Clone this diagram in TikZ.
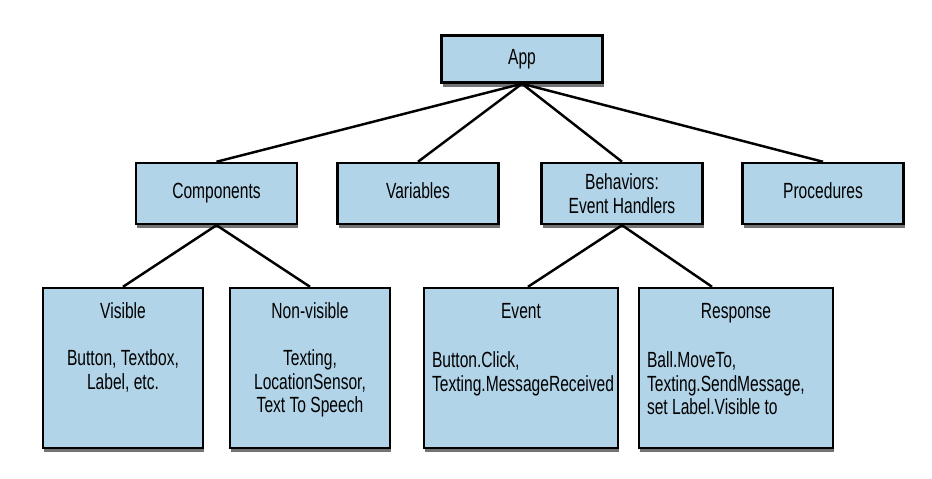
\documentclass[tikz,border=0pt]{standalone}
\usepackage{fontspec}
\setmainfont[FakeStretch=0.71]{Liberation Sans}
\usepackage{tikz}
\usetikzlibrary{positioning,shapes,shadows,calc}
\definecolor{boxblue}{RGB}{178,212,232}
\tikzset{
  box/.style={draw, rectangle, line width=1.4pt, fill=boxblue, inner sep=0pt,
    drop shadow={shadow xshift=0.8pt, shadow yshift=-2.4pt, opacity=0.55, fill=black}},
  onerow/.style={text height=1.6ex, text depth=0.45ex},
  link/.style={line width=1.4pt},
}

\begin{document}
\begin{tikzpicture}[x=0.02cm, y=-0.02cm, font=\fontsize{12.5}{13.3}\selectfont]
	\useasboundingbox (0,0) rectangle (932,479);
	
	% Racine
	\node[box, onerow, minimum width=3.22cm, minimum height=0.94cm] (app) at (522,59) {App};
	
	% Niveau 2
	\node[box, onerow, minimum width=3.22cm, minimum height=1.22cm] (comp) at (216.5,193.5) {Components};
	\node[box, onerow, minimum width=3.22cm, minimum height=1.22cm] (vars) at (418,193.5) {Variables};
	\node[box, minimum width=3.22cm, minimum height=1.22cm, align=center] (behav) at (622,193.5) {Behaviors:\\Event Handlers};
	\node[box, onerow, minimum width=3.22cm, minimum height=1.22cm] (proc) at (823,193.5) {Procedures};
	
	% Niveau 3
	\node[box, inner xsep=0.3cm, inner ysep=0.3cm] (visible) at (123,368)
		{\parbox[c][2.6cm][t]{2.6cm}{\centering Visible\\[13.3pt] Button, Textbox,\\ Label, etc.}};
	\node[box, inner xsep=0.3cm, inner ysep=0.3cm] (nonvis) at (310,368)
		{\parbox[c][2.6cm][t]{2.6cm}{\centering Non-visible\\[13.3pt] Texting,\\ LocationSensor,\\ Text To Speech}};
	\node[box, inner xsep=0.16cm, inner ysep=0.3cm] (event) at (521,368)
		{\parbox[c][2.6cm][t]{3.56cm}{\centering Event\par\vspace{15pt}\raggedright Button.Click,\\ Texting.MessageReceived}};
	\node[box, inner xsep=0.16cm, inner ysep=0.3cm] (resp) at (736,368)
		{\parbox[c][2.6cm][t]{3.56cm}{\centering Response\par\vspace{15pt}\raggedright Ball.MoveTo,\\ Texting.SendMessage,\\ set Label.Visible to}};
	
	% Liens
	\foreach \n in {comp,vars,behav,proc} {
		\draw[link] (app.south) -- (\n.north);
	}
	\foreach \n in {visible,nonvis} {
		\draw[link] (comp.south) -- (\n.north);
	}
	\draw[link] (behav.south) -- ($(event.north)+(7,0)$);
	\draw[link] (behav.south) -- ($(resp.north)+(-24,0)$);
\end{tikzpicture}
\end{document}
